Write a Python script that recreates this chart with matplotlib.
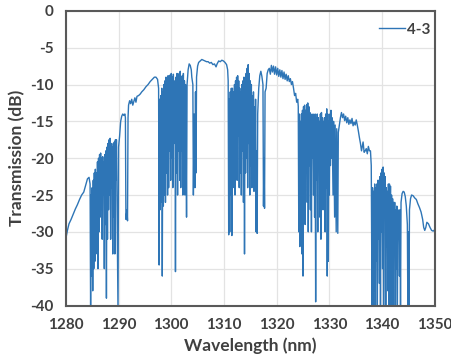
import numpy as np
import matplotlib.pyplot as plt

# smooth rising edge
wl_a = [1280.0, 1280.3, 1280.6, 1281.0, 1281.4, 1281.8, 1282.2, 1282.6, 1283.0, 1283.4,
        1283.8, 1284.1, 1284.4, 1284.6]
tr_a = [-30.9, -29.8, -28.9, -28.3, -27.6, -26.9, -26.3, -25.6, -25.0, -24.6,
        -23.6, -22.8, -22.6, -23.5]

# first dip band
wl_b = [1284.7, 1284.8, 1284.9, 1285.0, 1285.1, 1285.2, 1285.3, 1285.4, 1285.5, 1285.6,
        1285.7, 1285.8, 1285.9, 1286.0, 1286.1, 1286.2, 1286.3, 1286.4, 1286.5, 1286.6,
        1286.7, 1286.8, 1286.9, 1287.0, 1287.1, 1287.2, 1287.3, 1287.4, 1287.5, 1287.6,
        1287.7, 1287.8, 1287.9, 1288.0, 1288.1, 1288.2, 1288.3, 1288.4, 1288.5, 1288.6,
        1288.7, 1288.8, 1288.9, 1289.0, 1289.1, 1289.2, 1289.3, 1289.4, 1289.5, 1289.6,
        1289.8, 1289.9]
tr_b = [-41, -25, -36, -24, -38, -23, -35, -22, -34, -21.5,
        -33, -22, -31, -20.5, -35, -20, -30, -19.5, -28, -19.3,
        -27, -20, -31, -19.8, -25, -20.5, -35, -19.5, -29, -19,
        -39, -18.5, -31, -18, -27, -17.5, -25, -17.3, -31, -18,
        -24, -18.5, -33, -18, -28, -17.8, -33, -17.5, -23, -17.5,
        -33, -41]

# shoulder up to second band
wl_c = [1290.0, 1290.2, 1290.4, 1290.6, 1290.8, 1291.0, 1291.2, 1291.3, 1291.4, 1291.6,
        1291.7, 1291.8, 1291.9, 1292.1, 1292.3, 1292.5, 1292.7, 1292.9, 1293.1, 1293.3,
        1293.5, 1293.8, 1294.1, 1294.4, 1294.8, 1295.2, 1295.6, 1296.0, 1296.4, 1296.8,
        1297.1, 1297.4, 1297.6]
tr_c = [-18.5, -17, -15, -14.3, -14.0, -14.2, -14.0, -14.5, -28.3, -27,
        -28.5, -14.5, -12.8, -12.2, -12.6, -12.0, -12.8, -12.3, -11.8, -12.4,
        -11.6, -11.5, -11.3, -11.0, -10.7, -10.3, -10.0, -9.6, -9.3, -9.0,
        -9.0, -9.3, -10.5]

# second dip band
wl_d = [1297.7, 1297.8, 1297.9, 1298.0, 1298.1, 1298.2, 1298.3, 1298.4, 1298.5, 1298.6,
        1298.7, 1298.8, 1298.9, 1299.0, 1299.1, 1299.2, 1299.3, 1299.4, 1299.5, 1299.6,
        1299.7, 1299.8, 1299.9, 1300.0, 1300.1, 1300.2, 1300.3, 1300.4, 1300.6, 1300.7,
        1300.8, 1300.9, 1301.0, 1301.1, 1301.2, 1301.3, 1301.4, 1301.5, 1301.6, 1301.7,
        1301.8, 1301.9, 1302.0, 1302.1, 1302.2, 1302.3, 1302.4, 1302.5, 1302.6, 1302.7,
        1302.8, 1302.9, 1303.0, 1303.2, 1303.4, 1303.6, 1303.8, 1303.9, 1304.0, 1304.1,
        1304.2, 1304.35, 1304.5, 1304.6, 1304.7, 1304.8, 1305.0]
tr_d = [-34.5, -12, -27, -11.5, -26, -10.5, -36, -11, -26.5, -10,
        -25, -9.5, -26, -9, -22, -9.2, -25, -8.8, -24, -9.5,
        -19, -8.7, -23, -8.5, -20, -9, -24, -8.6, -18, -9.5,
        -35.4, -9, -22, -8.5, -25, -9.8, -19, -8.5, -23, -8.2,
        -24, -9, -19, -8.8, -25, -8.5, -20, -9.5, -25, -10,
        -16, -28, -10, -8, -7.2, -7.4, -8, -9, -9.5, -10,
        -25, -14, -24, -11, -22, -9, -7.5]

# flat top
wl_e = [1305.2, 1305.5, 1305.8, 1306.1, 1306.4, 1306.7, 1307.0, 1307.3, 1307.6, 1307.9,
        1308.2, 1308.5, 1308.7, 1309.0, 1309.3, 1309.6, 1309.9, 1310.2, 1310.5, 1310.7,
        1310.8]
tr_e = [-7.0, -6.8, -6.6, -6.7, -6.8, -6.9, -6.9, -7.1, -7.0, -7.3,
        -7.2, -7.6, -7.2, -6.8, -6.9, -6.7, -6.8, -7.0, -7.3, -8.0,
        -9.5]

# third dip band
wl_f = [1310.9, 1311.0, 1311.1, 1311.2, 1311.3, 1311.4, 1311.5, 1311.6, 1311.7, 1311.8,
        1311.9, 1312.0, 1312.1, 1312.2, 1312.3, 1312.4, 1312.5, 1312.6, 1312.7, 1312.8,
        1312.9, 1313.0, 1313.1, 1313.2, 1313.3, 1313.4, 1313.5, 1313.6, 1313.7, 1313.8,
        1313.9, 1314.0, 1314.1, 1314.2, 1314.3, 1314.4, 1314.5, 1314.6, 1314.7, 1314.8,
        1314.9, 1315.0, 1315.1, 1315.2, 1315.3, 1315.4, 1315.5, 1315.6, 1315.7, 1315.8,
        1315.9, 1316.0, 1316.1, 1316.2, 1316.3, 1316.4, 1316.6, 1316.8, 1317.0, 1317.2,
        1317.4, 1317.5, 1317.6, 1317.7, 1317.8, 1318.0, 1318.2, 1318.4]
tr_f = [-30.4, -12, -30, -11, -25, -10.5, -30.5, -10.5, -24, -11,
        -21, -10, -25, -9.5, -20, -9, -23, -8.8, -17, -9.5,
        -24, -10.5, -22, -11, -25, -10, -19, -9.5, -26, -9,
        -33, -9.5, -22, -8.5, -20, -7.8, -24, -7.3, -18, -8.5,
        -25, -9.5, -21, -10, -24, -11.5, -18, -11, -24.5, -13,
        -21, -12, -30, -19, -30.2, -14, -10.5, -8.8, -8.2, -8.9,
        -10, -26.5, -20, -26.8, -11, -10.5, -8.5, -8.0]

# wiggly top
wl_g = [1318.6, 1318.8, 1319.0, 1319.2, 1319.4, 1319.6, 1319.8, 1320.0, 1320.2, 1320.4,
        1320.6, 1320.8, 1321.0, 1321.2, 1321.4, 1321.6, 1321.8, 1322.0, 1322.2, 1322.4,
        1322.6, 1322.8, 1323.0, 1323.2, 1323.4, 1323.6, 1323.8, 1324.0, 1324.1]
tr_g = [-7.8, -8.6, -7.4, -8.3, -7.5, -8.6, -7.6, -8.7, -7.8, -8.9,
        -8.0, -9.0, -8.1, -9.2, -8.3, -9.3, -8.6, -9.5, -8.8, -9.6,
        -9.2, -10.0, -9.6, -10.5, -11.5, -11.2, -12.4, -12.0, -13]

# fourth dip band
wl_h = [1324.2, 1324.3, 1324.4, 1324.5, 1324.6, 1324.7, 1324.8, 1324.9, 1325.0, 1325.1,
        1325.2, 1325.3, 1325.4, 1325.5, 1325.6, 1325.7, 1325.8, 1325.9, 1326.0, 1326.1,
        1326.2, 1326.3, 1326.4, 1326.5, 1326.6, 1326.7, 1326.8, 1326.9, 1327.0, 1327.1,
        1327.2, 1327.3, 1327.4, 1327.5, 1327.6, 1327.7, 1327.8, 1327.9, 1328.0, 1328.1,
        1328.2, 1328.3, 1328.4, 1328.5, 1328.6, 1328.7, 1328.8, 1328.9, 1329.0, 1329.1,
        1329.2, 1329.3, 1329.4, 1329.5, 1329.6, 1329.7, 1329.8, 1329.9, 1330.0, 1330.1,
        1330.2, 1330.3, 1330.4, 1330.5, 1330.7, 1330.8, 1331.0, 1331.1, 1331.3, 1331.4,
        1331.6, 1331.7, 1331.9, 1332.1, 1332.3, 1332.5]
tr_h = [-30, -14, -32, -15, -28, -14, -33, -13.5, -36, -13,
        -24, -12.8, -29, -13.5, -22, -12.7, -26, -12.5, -30, -13,
        -21, -13.8, -27, -14, -30, -14.5, -20, -14, -25, -14.5,
        -28, -14, -39.5, -14.5, -23, -14, -30, -14.5, -21, -15,
        -28, -14, -31, -13.8, -20, -14.5, -27, -15, -26, -14.5,
        -30, -14, -24, -13.3, -36, -14, -34, -15, -25, -14,
        -21, -13.5, -20, -14.5, -25, -15, -28, -15.5, -30, -16,
        -30.2, -16.5, -15.5, -14.5, -13.8, -14.5]

# shoulder before last band
wl_i = [1332.7, 1332.9, 1333.1, 1333.3, 1333.5, 1333.7, 1333.9, 1334.1, 1334.3, 1334.5,
        1334.7, 1334.9, 1335.1, 1335.3, 1335.5, 1335.7, 1335.9, 1336.1, 1336.3, 1336.4,
        1336.6, 1336.8, 1337.0, 1337.2, 1337.4, 1337.6, 1337.8, 1337.95]
tr_i = [-14.0, -14.9, -14.3, -15.2, -14.5, -15.4, -14.8, -15.3, -14.6, -15.6,
        -15.1, -15.5, -14.8, -15.5, -16.3, -17.2, -18.0, -19.0, -18.2, -17.8,
        -19.2, -19.0, -18.7, -19.4, -18.4, -19.0, -19.0, -21.0]

# last dip band
wl_j = [1338.1, 1338.2, 1338.3, 1338.4, 1338.5, 1338.6, 1338.7, 1338.8, 1338.9, 1339.0,
        1339.1, 1339.2, 1339.3, 1339.4, 1339.5, 1339.6, 1339.7, 1339.8, 1339.9, 1340.0,
        1340.1, 1340.2, 1340.3, 1340.4, 1340.5, 1340.6, 1340.7, 1340.8, 1340.9, 1341.0,
        1341.1, 1341.2, 1341.3, 1341.4, 1341.5, 1341.6, 1341.7, 1341.8, 1341.9, 1342.0,
        1342.1, 1342.2, 1342.3, 1342.4, 1342.5, 1342.6, 1342.7, 1342.8, 1342.9, 1343.0,
        1343.1, 1343.2, 1343.3, 1343.4, 1343.5, 1343.6, 1343.8, 1344.0, 1344.2, 1344.4,
        1344.6, 1344.8, 1344.9, 1345.0, 1345.1, 1345.2, 1345.4]
tr_j = [-41, -24, -41, -24.5, -38, -23.5, -41, -24, -34, -23.5,
        -41, -23, -31, -23, -37, -22.5, -41, -22, -30, -21.5,
        -35, -21.2, -41, -22, -27, -22.5, -41, -24, -32, -24.5,
        -38, -23.5, -41, -23.5, -29, -23.8, -41, -25, -31, -25.5,
        -41, -26, -33, -26, -41, -27, -35, -26.5, -41, -27,
        -31, -28, -36, -27, -41, -26, -24.8, -24.5, -24.6, -25.2,
        -26.5, -29, -41, -30, -41, -27, -25.5]

# falling edge
wl_k = [1345.6, 1345.9, 1346.2, 1346.5, 1346.8, 1347.1, 1347.4, 1347.7, 1347.9, 1348.1,
        1348.3, 1348.5, 1348.8, 1349.1, 1349.4, 1349.7, 1350.0]
tr_k = [-25.0, -25.1, -25.4, -25.6, -26.2, -26.7, -27.3, -28.3, -29.4, -29.8,
        -29.4, -28.7, -28.9, -29.4, -29.8, -29.9, -29.7]

wl = np.concatenate([wl_a, wl_b, wl_c, wl_d, wl_e, wl_f, wl_g, wl_h, wl_i, wl_j, wl_k])
tr = np.concatenate([tr_a, tr_b, tr_c, tr_d, tr_e, tr_f, tr_g, tr_h, tr_i, tr_j, tr_k])

txt = '#404040'
plt.rcParams['font.family'] = ['Lato', 'DejaVu Sans']
plt.rcParams['axes.unicode_minus'] = False

fig = plt.figure(figsize=(4.51, 3.62), dpi=100)
ax = fig.add_axes([0.146, 0.156, 0.818, 0.814])

ax.plot(wl, tr, color='#2E75B6', lw=1.0, label='4-3')

ax.set_xlim(1280, 1350)
ax.set_ylim(-40, 0)
ax.set_xticks(np.arange(1280, 1351, 10))
ax.set_yticks(np.arange(-40, 1, 5))
ax.grid(True, color='#e3e3e3', lw=0.9)
ax.set_axisbelow(True)
ax.tick_params(length=0, labelsize=11, labelcolor=txt)
ax.tick_params(axis='x', pad=9)
ax.tick_params(axis='y', pad=9)
for lab in ax.get_xticklabels() + ax.get_yticklabels():
    lab.set_fontweight('bold')
for s in ax.spines.values():
    s.set_color('#595959')
    s.set_linewidth(1.5)

ax.set_xlabel('Wavelength (nm)', fontsize=12.5, fontweight='bold', color=txt, labelpad=4)
ax.set_ylabel('Transmission (dB)', fontsize=12.5, fontweight='bold', color=txt, labelpad=3)

leg = ax.legend(loc='upper right', bbox_to_anchor=(1.0, 0.975), frameon=False,
                handlelength=1.7, handletextpad=0.15, borderpad=0.2, borderaxespad=0.1,
                prop={'weight': 'bold', 'size': 11})
for t in leg.get_texts():
    t.set_color(txt)

fig.savefig('out.png', dpi=100)
